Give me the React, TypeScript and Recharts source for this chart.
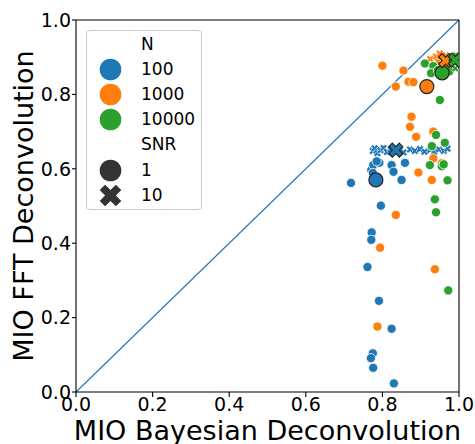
import React from 'react';
import { ScatterChart, Scatter, XAxis, YAxis, ReferenceLine, Legend, Label } from 'recharts';

const BLUE = '#1f77b4';
const ORANGE = '#ff7f0e';
const GREEN = '#2ca02c';
const DARK = '#333333';
const FONT = 'DejaVu Sans';

const axisTicks = [0, 0.2, 0.4, 0.6, 0.8, 1.0];
const nLevels = ['100', '1000', '10000'];
const nColors = [BLUE, ORANGE, GREEN];
const snrLevels = ['1', '10'];
const xLabel = 'MIO Bayesian Deconvolution';
const yLabel = 'MIO FFT Deconvolution';

// N = 100
const n100Snr1: [number, number][] = [
  [0.718, 0.562], [0.771, 0.597], [0.776, 0.610], [0.792, 0.616], [0.775, 0.589],
  [0.785, 0.620], [0.824, 0.610], [0.829, 0.592], [0.859, 0.616], [0.850, 0.570],
  [0.796, 0.501], [0.772, 0.429], [0.771, 0.409], [0.761, 0.336], [0.791, 0.245],
  [0.824, 0.170], [0.775, 0.104], [0.770, 0.091], [0.776, 0.065], [0.830, 0.023],
];
const n100Snr10: [number, number][] = [
  [0.775, 0.648], [0.780, 0.655], [0.787, 0.642], [0.795, 0.650], [0.803, 0.656],
  [0.812, 0.645], [0.822, 0.652], [0.845, 0.650], [0.855, 0.644], [0.872, 0.652],
  [0.885, 0.648], [0.898, 0.653], [0.910, 0.646], [0.925, 0.651], [0.935, 0.645],
  [0.948, 0.652], [0.960, 0.648], [0.970, 0.654],
];
// N = 1000
const n1000Snr1: [number, number][] = [
  [0.800, 0.877], [0.855, 0.864], [0.868, 0.834], [0.881, 0.833], [0.835, 0.821],
  [0.876, 0.740], [0.872, 0.713], [0.888, 0.686], [0.933, 0.700], [0.933, 0.628],
  [0.894, 0.590], [0.929, 0.570], [0.955, 0.615], [0.835, 0.476], [0.794, 0.388],
  [0.937, 0.330], [0.787, 0.176],
];
const n1000Snr10: [number, number][] = [
  [0.918, 0.885], [0.925, 0.895], [0.932, 0.878], [0.940, 0.902], [0.945, 0.888],
  [0.950, 0.910], [0.955, 0.875], [0.960, 0.898], [0.965, 0.905], [0.970, 0.880],
  [0.935, 0.868], [0.975, 0.893],
];
// N = 10000
const n10000Snr1: [number, number][] = [
  [0.911, 0.883], [0.933, 0.876], [0.927, 0.857], [0.945, 0.865], [0.975, 0.862],
  [0.950, 0.785], [0.940, 0.691], [0.963, 0.670], [0.929, 0.661], [0.924, 0.610],
  [0.955, 0.607], [0.960, 0.612], [0.970, 0.569], [0.937, 0.518], [0.940, 0.483],
  [0.972, 0.273],
];
const n10000Snr10: [number, number][] = [
  [0.980, 0.880], [0.985, 0.895], [0.990, 0.870], [0.995, 0.900], [1.000, 0.885],
  [0.975, 0.900], [0.992, 0.905],
];
// group means
const meansSnr1: [number, number][] = [[0.783, 0.570], [0.916, 0.821], [0.956, 0.858]];
const meansSnr10: [number, number][] = [[0.835, 0.650], [0.965, 0.891], [0.990, 0.892]];

const rows = (pts: [number, number][]) => pts.map(([x, y]) => ({ x, y }));

const PLUS = [[-1, -3], [1, -3], [1, -1], [3, -1], [3, 1], [1, 1], [1, 3], [-1, 3], [-1, 1], [-3, 1], [-3, -1], [-1, -1]];
function xPath(cx: number, cy: number, half: number) {
  const k = half / 0.9428;
  const pts = PLUS.map(([vx, vy]) => {
    const px = ((vx - vy) / (3 * Math.SQRT2)) * k;
    const py = ((vx + vy) / (3 * Math.SQRT2)) * k;
    return `${(cx + px).toFixed(2)},${(cy + py).toFixed(2)}`;
  });
  return 'M' + pts.join('L') + 'Z';
}

const circleShape = (fill: string, r: number, stroke: string, sw: number) => (p: any) =>
  <circle cx={p.cx} cy={p.cy} r={r} fill={fill} stroke={stroke} strokeWidth={sw} />;
const crossShape = (fill: string, half: number, stroke: string, sw: number) => (p: any) =>
  <path d={xPath(p.cx, p.cy, half)} fill={fill} stroke={stroke} strokeWidth={sw} strokeLinejoin="miter" />;

const LegendBox = () => {
  const items: { kind: 'title' | 'circle' | 'cross'; color?: string; text: string }[] = [
    { kind: 'title', text: 'N' },
    ...nLevels.map((t, i) => ({ kind: 'circle' as const, color: nColors[i], text: t })),
    { kind: 'title', text: 'SNR' },
    { kind: 'circle', color: DARK, text: snrLevels[0] },
    { kind: 'cross', color: DARK, text: snrLevels[1] },
  ];
  return (
    <div style={{
      width: 116, height: 180, boxSizing: 'border-box', border: '1px solid #cccccc', borderRadius: 4,
      background: 'rgba(255,255,255,0.8)', fontFamily: FONT, fontSize: 17, color: '#000', paddingTop: 0.5,
    }}>
      {items.map((it, i) => (
        <div key={i} style={{ height: 25.2, display: 'flex', alignItems: 'center' }}>
          <svg width={47} height={25} style={{ display: 'block', flex: '0 0 auto' }}>
            {it.kind === 'circle' && <circle cx={23.5} cy={12.5} r={10.8} fill={it.color} />}
            {it.kind === 'cross' && <path d={xPath(23.5, 12.5, 10.8)} fill={it.color} />}
          </svg>
          <span style={{ marginLeft: 7, lineHeight: '25px', whiteSpace: 'nowrap' }}>{it.text}</span>
        </div>
      ))}
    </div>
  );
};

const renderYLabel = (p: any) => {
  const vb = p.viewBox || { x: 0, y: 20, width: 76, height: 372 };
  const x = vb.x + 33;
  const y = vb.y + vb.height / 2;
  return (
    <text x={x} y={y} transform={`rotate(-90 ${x} ${y})`} textAnchor="middle" fontSize={27} fontFamily={FONT} fill="#000">
      {yLabel}
    </text>
  );
};
const renderXLabel = (p: any) => {
  const vb = p.viewBox || { x: 76, y: 392, width: 383, height: 52 };
  return (
    <text x={vb.x + vb.width / 2} y={vb.y + 48} textAnchor="middle" fontSize={27} fontFamily={FONT} fill="#000">
      {xLabel}
    </text>
  );
};

const tickStyle = { fontSize: 19, fill: '#000', fontFamily: FONT };

export default function App() {
  return (
    <div style={{ position: 'absolute', left: 0, top: 0, background: '#fff' }}>
      <ScatterChart width={475} height={444} margin={{ top: 20, right: 16, bottom: 0, left: 0 }}>
        <XAxis type="number" dataKey="x" domain={[0, 1]} ticks={axisTicks} interval={0}
          tickFormatter={(v: number) => v.toFixed(1)} height={52} tick={tickStyle}
          tickSize={5} tickMargin={1} stroke="#000" axisLine={{ stroke: '#000', strokeWidth: 1.1 }}
          tickLine={{ stroke: '#000', strokeWidth: 1.1 }} allowDataOverflow>
          <Label content={renderXLabel} />
        </XAxis>
        <YAxis type="number" dataKey="y" domain={[0, 1]} ticks={axisTicks} interval={0}
          tickFormatter={(v: number) => v.toFixed(1)} width={76} tick={tickStyle}
          tickSize={4} tickMargin={1} stroke="#000" axisLine={{ stroke: '#000', strokeWidth: 1.1 }}
          tickLine={{ stroke: '#000', strokeWidth: 1.1 }} allowDataOverflow>
          <Label content={renderYLabel} />
        </YAxis>
        <ReferenceLine segment={[{ x: 0, y: 0 }, { x: 1, y: 1 }]} stroke={BLUE} strokeWidth={1.1} ifOverflow="visible" />
        <Scatter data={rows(n100Snr1)} shape={circleShape(BLUE, 4.6, '#fff', 0.8)} isAnimationActive={false} />
        <Scatter data={rows(n100Snr10)} shape={crossShape(BLUE, 3.8, '#fff', 0.6)} isAnimationActive={false} />
        <Scatter data={rows(n1000Snr1)} shape={circleShape(ORANGE, 4.6, '#fff', 0.8)} isAnimationActive={false} />
        <Scatter data={rows(n1000Snr10)} shape={crossShape(ORANGE, 3.8, '#fff', 0.6)} isAnimationActive={false} />
        <Scatter data={rows(n10000Snr1)} shape={circleShape(GREEN, 4.6, '#fff', 0.8)} isAnimationActive={false} />
        <Scatter data={rows(n10000Snr10)} shape={crossShape(GREEN, 3.8, '#fff', 0.6)} isAnimationActive={false} />
        {meansSnr1.map((m, i) => (
          <Scatter key={'m1' + i} data={rows([m])} shape={circleShape(nColors[i], 7, '#222', 1.2)} isAnimationActive={false} />
        ))}
        {meansSnr10.map((m, i) => (
          <Scatter key={'m10' + i} data={rows([m])} shape={crossShape(nColors[i], 7, '#222', 1.2)} isAnimationActive={false} />
        ))}
        <ReferenceLine y={1} stroke="#000" strokeWidth={1.1} />
        <ReferenceLine x={1} stroke="#000" strokeWidth={1.1} />
        <Legend content={LegendBox} layout="vertical" align="center" verticalAlign="middle"
          wrapperStyle={{ left: 86, top: 30, width: 116, height: 180 }} />
      </ScatterChart>
    </div>
  );
}
